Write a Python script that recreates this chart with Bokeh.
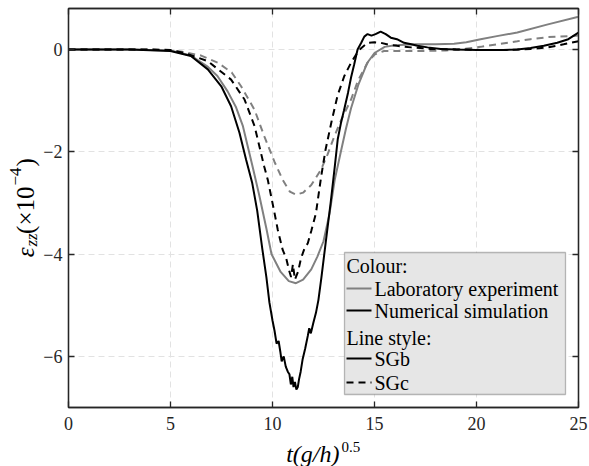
import math
from bokeh.plotting import figure
from bokeh.layouts import row, column
from bokeh.models import (Range1d, FixedTicker, LinearAxis, Label, BoxAnnotation,
                          Arrow, CustomJSTickFormatter)
from bokeh.embed import file_html
from bokeh.resources import INLINE

FONT = "Liberation Serif"
DARK = "#262626"
GREY = "#808080"

# ---------------- data ----------------
x_ticks = [0, 5, 10, 15, 20, 25]
y_ticks = [-6, -4, -2, 0]
y_tick_labels = {-6: "\u22126", -4: "\u22124", -2: "\u22122", 0: "0"}

lab_sgb_t = [0, 3, 5, 6, 6.8, 7.3, 7.8, 8.2, 8.55, 8.85, 9.0, 9.35, 9.7, 9.95, 10.4, 10.8,
             11.15, 11.5, 11.9, 12.2, 12.5, 12.8, 13.05, 13.35, 13.6, 13.85, 14.2, 14.65,
             15.0, 15.5, 16, 17, 18, 18.9, 19.5, 20.2, 21, 22, 23.5, 25]
lab_sgb_v = [0, 0, -0.02, -0.12, -0.33, -0.52, -0.82, -1.12, -1.5, -2.0, -2.25, -2.85, -3.5,
             -4.0, -4.35, -4.53, -4.57, -4.5, -4.3, -4.05, -3.75, -3.2, -2.55, -2.0, -1.55,
             -1.15, -0.7, -0.26, -0.07, 0.05, 0.08, 0.1, 0.1, 0.11, 0.14, 0.2, 0.26, 0.33,
             0.49, 0.64]

num_sgb_t = [0, 3, 5, 6, 6.83, 7.49, 7.97, 8.38, 8.71, 9.0, 9.25, 9.5, 9.7, 9.85, 10.0, 10.1,
             10.2, 10.3, 10.38, 10.45, 10.55, 10.65, 10.75, 10.83, 10.9, 10.97, 11.03, 11.1,
             11.17, 11.24, 11.3, 11.38, 11.48, 11.6, 11.73, 11.8, 11.88, 12.0, 12.13, 12.25,
             12.4, 12.6, 12.85, 13.05, 13.2, 13.35, 13.5, 13.7, 13.85, 14.0, 14.17, 14.35,
             14.5, 14.66, 14.85, 15.05, 15.3, 15.55, 15.8, 16.1, 16.45, 16.8, 17.1, 17.6,
             18.25, 19, 20, 21.3, 22, 22.65, 23.3, 23.96, 24.5, 25]
num_sgb_v = [0, 0, -0.03, -0.13, -0.39, -0.72, -1.11, -1.63, -2.16, -2.6, -3.15, -3.9, -4.45,
             -4.95, -5.3, -5.5, -5.75, -5.7, -5.9, -6.1, -6.0, -6.2, -6.3, -6.35, -6.55, -6.4,
             -6.6, -6.5, -6.65, -6.6, -6.45, -6.3, -6.05, -5.85, -5.6, -5.45, -5.55, -5.35,
             -5.15, -4.9, -4.45, -3.8, -3.0, -2.3, -1.75, -1.45, -1.2, -0.85, -0.55, -0.3,
             0.0, 0.13, 0.25, 0.3, 0.27, 0.3, 0.35, 0.3, 0.23, 0.2, 0.13, 0.1, 0.07, 0.04,
             0.01, 0.0, -0.01, -0.01, 0.0, 0.03, 0.07, 0.13, 0.2, 0.33]

lab_sgc_t = [0, 4, 5.5, 6.5, 7.32, 8.0, 8.46, 9.12, 9.6, 10.1, 10.5, 10.85, 11.15, 11.5, 11.9,
             12.38, 12.7, 13.03, 13.4, 13.85, 14.2, 14.66, 15.0, 15.47, 16.5, 17.5, 18.5,
             19.4, 20.2, 21, 22, 22.65, 23.5, 25]
lab_sgc_v = [0, 0, -0.04, -0.12, -0.26, -0.45, -0.72, -1.18, -1.7, -2.2, -2.55, -2.78, -2.84,
             -2.8, -2.65, -2.35, -2.05, -1.7, -1.35, -0.98, -0.6, -0.26, -0.1, -0.03, -0.03,
             -0.03, -0.02, 0.01, 0.05, 0.1, 0.16, 0.2, 0.24, 0.27]

num_sgc_t = [0, 4, 5.0, 5.7, 6.83, 7.97, 8.63, 9.12, 9.6, 9.77, 10.1, 10.26, 10.5, 10.67,
             10.8, 10.91, 11.0, 11.1, 11.25, 11.4, 11.56, 11.73, 11.9, 12.13, 12.38, 12.6,
             12.9, 13.19, 13.52, 13.85, 14.1, 14.33, 14.66, 15.0, 15.3, 15.7, 16.1, 16.8,
             17.76, 19, 20.2, 21.5, 22.65, 23.5, 24.27, 25]
num_sgc_v = [0, 0, -0.01, -0.07, -0.23, -0.59, -0.98, -1.5, -2.3, -2.55, -3.2, -3.53, -3.92,
             -4.08, -4.3, -4.45, -4.2, -4.5, -4.35, -4.08, -3.9, -3.79, -3.55, -3.2, -2.5,
             -1.96, -1.4, -0.9, -0.52, -0.26, -0.1, 0.02, 0.13, 0.14, 0.13, 0.09, 0.07, 0.04,
             0.01, 0.0, -0.01, -0.01, 0.01, 0.04, 0.1, 0.16]

legend_colour_header = "Colour:"
legend_colour_items = ["Laboratory experiment", "Numerical simulation"]
legend_style_header = "Line style:"
legend_style_items = ["SGb", "SGc"]

YL_W = 40  # width of the y-title panel

# ---------------- main figure ----------------
p = figure(width=589 - YL_W, height=436, output_backend="svg", toolbar_location=None,
           x_range=Range1d(0, 25), y_range=Range1d(-7, 0.8),
           min_border_left=67 - YL_W, min_border_right=11, min_border_top=8,
           min_border_bottom=29)
p.background_fill_color = "white"
p.border_fill_color = "white"
p.outline_line_color = DARK
p.outline_line_width = 1.3

p.xaxis.ticker = FixedTicker(ticks=x_ticks)
p.yaxis.ticker = FixedTicker(ticks=y_ticks)
p.yaxis.major_label_overrides = y_tick_labels
for ax in (p.xaxis[0], p.yaxis[0]):
    ax.major_tick_in = 6
    ax.major_tick_out = 0
    ax.minor_tick_line_color = None
    ax.axis_line_color = DARK
    ax.axis_line_width = 1.3
    ax.major_tick_line_color = DARK
    ax.major_tick_line_width = 1.3
    ax.major_label_text_font = FONT
    ax.major_label_text_font_size = "18px"
    ax.major_label_text_color = DARK
p.xaxis.major_label_standoff = 9
p.yaxis.major_label_standoff = 6

blank = CustomJSTickFormatter(code="return ''")
right_ax = LinearAxis(ticker=FixedTicker(ticks=y_ticks), formatter=blank)
top_ax = LinearAxis(ticker=FixedTicker(ticks=x_ticks), formatter=blank)
for ax in (right_ax, top_ax):
    ax.major_tick_in = 6
    ax.major_tick_out = 0
    ax.minor_tick_line_color = None
    ax.axis_line_color = DARK
    ax.axis_line_width = 1.3
    ax.major_tick_line_color = DARK
    ax.major_tick_line_width = 1.3
    ax.major_label_standoff = 0
    ax.major_label_text_font_size = "0px"
p.add_layout(right_ax, "right")
p.add_layout(top_ax, "above")

p.xgrid.ticker = FixedTicker(ticks=x_ticks[1:-1])
p.ygrid.ticker = FixedTicker(ticks=y_ticks)
p.grid.grid_line_color = "#e2e2e2"
p.grid.grid_line_dash = "6 4"
p.grid.grid_line_width = 1

# ---------------- curves ----------------
p.line(lab_sgb_t, lab_sgb_v, line_color=GREY, line_width=2)
p.line(lab_sgc_t, lab_sgc_v, line_color=GREY, line_width=2, line_dash="7 5")
p.line(num_sgc_t, num_sgc_v, line_color="black", line_width=2, line_dash="7 5")
p.line(num_sgb_t, num_sgb_v, line_color="black", line_width=2)

# ---------------- legend (screen units, frame relative) ----------------
p.add_layout(BoxAnnotation(left=276, right=497, bottom=13, top=155,
                           left_units="screen", right_units="screen",
                           bottom_units="screen", top_units="screen",
                           fill_color="#e6e6e6", fill_alpha=1,
                           line_color=DARK, line_width=1.3))

def leg_text(txt, x, y):
    p.add_layout(Label(x=x, y=y, x_units="screen", y_units="screen", text=txt,
                       text_font=FONT, text_font_size="20px", text_color="black",
                       text_baseline="middle", text_align="left"))

def leg_line(y, color, dash):
    p.add_layout(Arrow(x_start=278, y_start=y, x_end=303, y_end=y,
                       start_units="screen", end_units="screen", end=None,
                       line_color=color, line_width=2, line_dash=dash))

rows = [142, 119, 97, 70, 49, 25]
leg_text(legend_colour_header, 278, rows[0])
leg_line(rows[1], GREY, "solid")
leg_text(legend_colour_items[0], 306, rows[1])
leg_line(rows[2], "black", "solid")
leg_text(legend_colour_items[1], 306, rows[2])
leg_text(legend_style_header, 278, rows[3])
leg_line(rows[4], "black", "solid")
leg_text(legend_style_items[0], 306, rows[4])
leg_line(rows[5], "black", "7 5")
leg_text(legend_style_items[1], 306, rows[5])

# ---------------- axis title panels ----------------
def panel(w, h):
    f = figure(width=w, height=h, output_backend="svg", toolbar_location=None,
               x_range=Range1d(0, 1), y_range=Range1d(0, 1),
               x_axis_location=None, y_axis_location=None,
               min_border=0, min_border_left=0, min_border_right=0,
               min_border_top=0, min_border_bottom=0)
    f.grid.visible = False
    f.outline_line_color = None
    f.background_fill_color = "white"
    f.border_fill_color = "white"
    return f

def lab(f, txt, x, y, size, align="left", italic=False, angle=0.0):
    f.add_layout(Label(x=x, y=y, x_units="screen", y_units="screen", text=txt,
                       text_font=FONT, text_font_size=size, text_color="black",
                       text_font_style="italic" if italic else "normal",
                       text_baseline="alphabetic", text_align=align, angle=angle))

# x label: t(g/h)^0.5  (panel frame is aligned with the main frame, left at page x 67)
xl = panel(589 - YL_W, 30)
xc = 338 - 67
lab(xl, "t(g/h)", xc, 13, "24px", align="right", italic=True)
lab(xl, "0.5", xc + 2, 20, "15px", align="left")

# y label: eps_zz (x10^-4), rotated
yl = panel(YL_W, 466)
A = math.pi / 2
lab(yl, "\u03b5", 25, 219, "25px", align="right", italic=True, angle=A)
lab(yl, "zz", 31, 220, "17px", align="left", italic=True, angle=A)
lab(yl, "(\u00d710", 25, 280, "25px", align="right", angle=A)
lab(yl, "\u22124", 15, 281, "17px", align="left", angle=A)
lab(yl, ")", 25, 300, "25px", align="left", angle=A)

layout = row(yl, column(p, xl, spacing=0), spacing=0)
open("out.html", "w").write(file_html(layout, INLINE))
